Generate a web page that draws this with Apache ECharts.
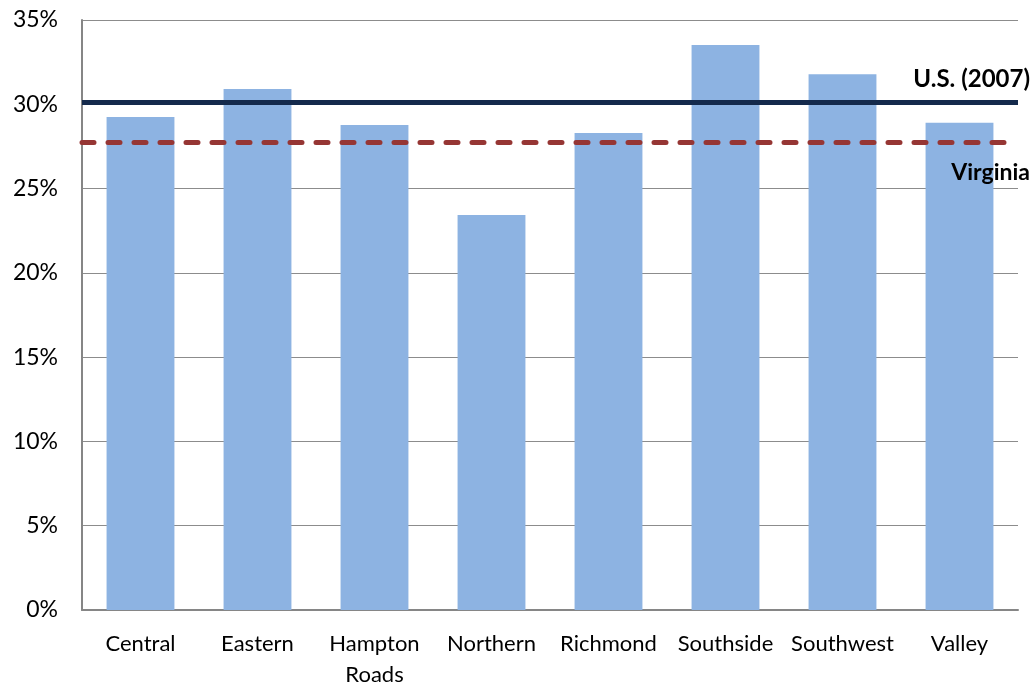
<!DOCTYPE html>
<html lang="en">
<head>
    <meta charset="UTF-8">
    <title>Regions vs U.S. and Virginia</title>
    <script src="https://cdn.jsdelivr.net/npm/echarts@6/dist/echarts.min.js"></script>
    <style>
        html, body { margin: 0; padding: 0; background: #fff; overflow: hidden; }
        #container { width: 1032px; height: 683px; }
    </style>
</head>
<body>
<div id="container"></div>
<script>
    var regions = ['Central', 'Eastern', 'Hampton\nRoads', 'Northern', 'Richmond', 'Southside', 'Southwest', 'Valley'];
    var regionValues = [29.25, 30.9, 28.77, 23.43, 28.3, 33.52, 31.78, 28.9];
    var usValue = 30.15;
    var virginiaValue = 27.75;
    var yTicks = [0, 5, 10, 15, 20, 25, 30, 35];

    var font = 'Lato, "Open Sans", sans-serif';
    var myChart = echarts.init(document.getElementById('container'));

    var option = {
        animation: false,
        grid: {
            left: 82,
            right: 14,
            top: 20,
            bottom: 73,
            containLabel: false,
            outerBoundsMode: 'none'
        },
        xAxis: {
            type: 'category',
            data: regions,
            axisLine: { lineStyle: { color: '#868686', width: 2 } },
            axisTick: { show: false },
            axisLabel: {
                color: '#000',
                fontSize: 22,
                fontFamily: font,
                lineHeight: 31,
                margin: 18,
                interval: 0
            }
        },
        yAxis: {
            type: 'value',
            min: yTicks[0],
            max: yTicks[yTicks.length - 1],
            interval: 5,
            axisLine: { show: true, lineStyle: { color: '#868686', width: 2 } },
            axisTick: { show: false },
            splitLine: { lineStyle: { color: '#8c8c8c', width: 1 } },
            axisLabel: {
                color: '#000',
                fontSize: 23,
                fontFamily: font,
                margin: 24,
                formatter: '{value}%'
            }
        },
        series: [
            {
                type: 'bar',
                data: regionValues,
                barCategoryGap: '42%',
                itemStyle: { color: '#8db3e2' },
                markLine: {
                    symbol: 'none',
                    silent: true,
                    data: [
                        {
                            name: 'U.S. (2007)',
                            yAxis: usValue,
                            lineStyle: { color: '#142a4c', width: 5, type: 'solid' },
                            label: {
                                show: true,
                                position: 'insideEndTop',
                                formatter: '{b}',
                                color: '#000',
                                fontWeight: 'bold',
                                fontSize: 24,
                                fontFamily: font,
                                distance: [-12, 10]
                            }
                        },
                        {
                            name: 'Virginia',
                            yAxis: virginiaValue,
                            lineStyle: { color: '#963634', width: 5, type: [12, 14], cap: 'round' },
                            label: {
                                show: true,
                                position: 'insideEndBottom',
                                formatter: '{b}',
                                color: '#000',
                                fontWeight: 'bold',
                                fontSize: 23,
                                fontFamily: font,
                                distance: [-12, 19]
                            }
                        }
                    ]
                }
            }
        ]
    };
    myChart.setOption(option, true);
</script>
</body>
</html>
